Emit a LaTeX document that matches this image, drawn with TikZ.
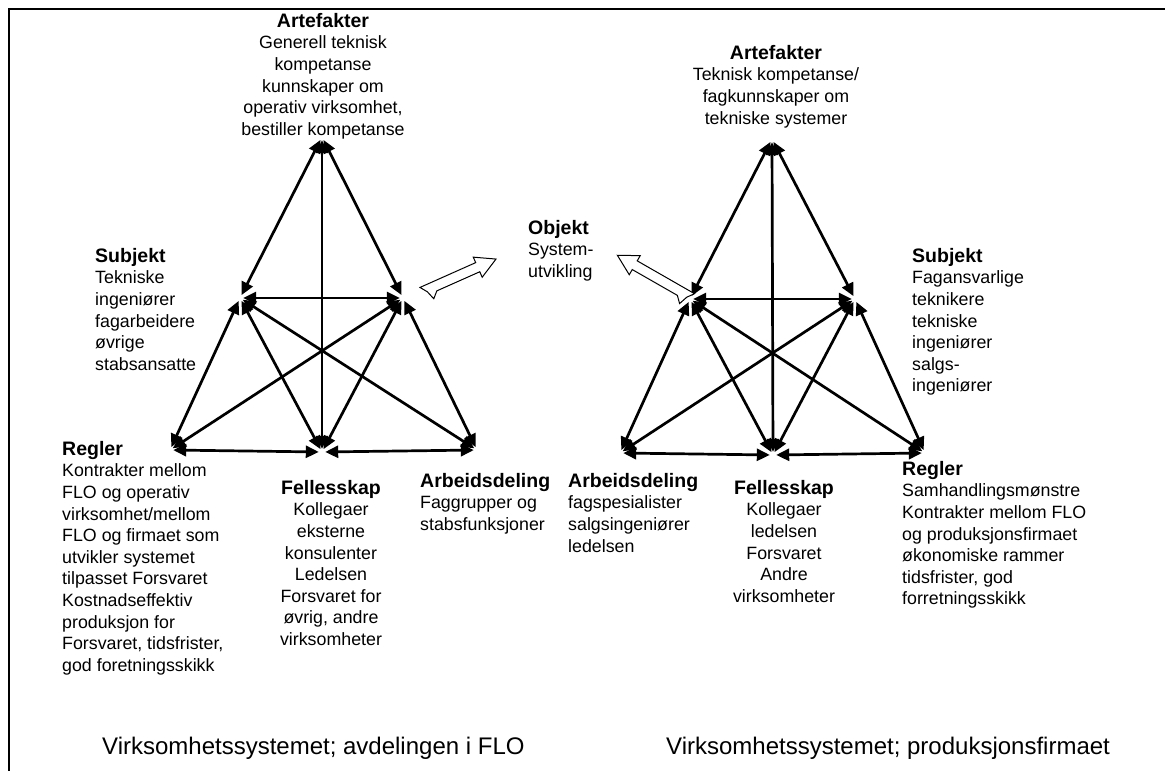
\documentclass[tikz,border=0pt]{standalone}
\usepackage{fontspec}
\setmainfont{Liberation Sans}
\usetikzlibrary{arrows.meta}
\tikzset{
  vtx/.style={circle, minimum size=6pt, inner sep=0pt},
  link/.style={line width=2.7pt, {Triangle[length=13pt,width=12pt]}-{Triangle[length=13pt,width=12pt]}},
  txt/.style={inner sep=0pt, font=\fontsize{17.8}{21.6}\selectfont},
  txtl/.style={txt, align=left, anchor=north west},
  txtc/.style={txt, align=center, anchor=north},
  caption/.style={inner sep=0pt, anchor=base west, font=\fontsize{24}{29}\selectfont},
  hollow/.style={draw=black, fill=white, line width=1pt, line join=miter},
}
\newcommand{\headtxt}[1]{{\bfseries\fontsize{19.5}{21.6}\selectfont #1}}

\begin{document}
\begin{tikzpicture}[x=1pt,y=-1pt]
\useasboundingbox (0,0) rectangle (1165,771);
\fill[white] (0,0) rectangle (1165,771);
\draw[line width=2pt] (9,771) -- (9,9) -- (1165,9);

% ---- left activity system ----
\node[vtx] (T1)  at (322,137) {};
\node[vtx] (UL1) at (240,298) {};
\node[vtx] (UR1) at (403,298) {};
\node[vtx] (BL1) at (170,450) {};
\node[vtx] (BM1) at (322,452) {};
\node[vtx] (BR1) at (477,450) {};

% ---- right activity system ----
\node[vtx] (T2)  at (772,139) {};
\node[vtx] (UL2) at (690,299) {};
\node[vtx] (UR2) at (855,299) {};
\node[vtx] (BL2) at (620,453) {};
\node[vtx] (BM2) at (773,455) {};
\node[vtx] (BR2) at (925,453) {};

\foreach \i in {1,2}{
  \foreach \a/\b in {T/UL, T/UR, T/BM, UL/UR, UL/BL, UL/BM, UL/BR, UR/BL, UR/BM, UR/BR, BL/BM, BM/BR}
    \draw[link] (\a\i) -- (\b\i);
}

% hollow arrows towards the object
\begin{scope}[shift={(422,292)}, rotate=24]
  \draw[hollow] (0,-5) -- (61,-5) -- (61,-11) -- (81,0) -- (61,11) -- (61,5)
    -- (14,5) -- (8,11) -- (5,2) -- cycle;
\end{scope}
\begin{scope}[shift={(692,298)}, rotate=150.2]
  \draw[hollow] (0,5) -- (66,5) -- (66,11) -- (86,0) -- (66,-11) -- (66,-5)
    -- (14,-5) -- (8,-11) -- (5,-2) -- cycle;
\end{scope}

% ---- labels, left ----
\node[txtc] (artL) at (323,13) {\headtxt{Artefakter}\\Generell teknisk\\kompetanse\\kunnskaper om\\operativ virksomhet,\\bestiller kompetanse};
\node[txtl] (subL) at (95,248) {\headtxt{Subjekt}\\Tekniske\\ingeniører\\fagarbeidere\\øvrige\\stabsansatte};
\node[txtl] (regL) at (62,441) {\headtxt{Regler}\\Kontrakter mellom\\FLO og operativ\\virksomhet/mellom\\FLO og firmaet som\\utvikler systemet\\tilpasset Forsvaret\\Kostnadseffektiv\\produksjon for\\Forsvaret, tidsfrister,\\god foretningsskikk};
\node[txtc] (felL) at (331,480) {\headtxt{Fellesskap}\\Kollegaer\\eksterne\\konsulenter\\Ledelsen\\Forsvaret for\\øvrig, andre\\virksomheter};
\node[txtl] (arbL) at (420,473) {\headtxt{Arbeidsdeling}\\Faggrupper og\\stabsfunksjoner};

\node[txtl] (obj) at (528,220) {\headtxt{Objekt}\\System-\\utvikling};

% ---- labels, right ----
\node[txtc] (artR) at (776,45) {\headtxt{Artefakter}\\Teknisk kompetanse/\\fagkunnskaper om\\tekniske systemer};
\node[txtl] (subR) at (912,248) {\headtxt{Subjekt}\\Fagansvarlige\\teknikere\\tekniske\\ingeniører\\salgs-\\ingeniører};
\node[txtl] (arbR) at (568,473) {\headtxt{Arbeidsdeling}\\fagspesialister\\salgsingeniører\\ledelsen};
\node[txtc] (felR) at (784,480) {\headtxt{Fellesskap}\\Kollegaer\\ledelsen\\Forsvaret\\Andre\\virksomheter};
\node[txtl] (regR) at (902,461) {\headtxt{Regler}\\Samhandlingsmønstre\\Kontrakter mellom FLO\\og produksjonsfirmaet\\økonomiske rammer\\tidsfrister, god\\forretningsskikk};

% ---- captions ----
\node[caption] (capL) at (102,754) {Virksomhetssystemet; avdelingen i FLO};
\node[caption] (capR) at (666,754) {Virksomhetssystemet; produksjonsfirmaet};
\end{tikzpicture}
\end{document}
